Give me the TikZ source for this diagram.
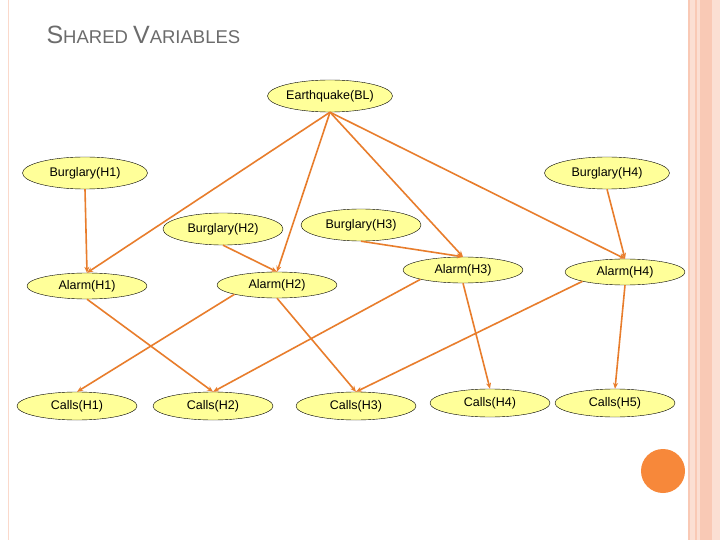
\documentclass[tikz,border=0pt]{standalone}
\usepackage{fontspec}
\setmainfont{Liberation Sans}
\usetikzlibrary{shapes.geometric,arrows.meta}
\definecolor{nodefill}{HTML}{FFFF99}
\definecolor{edge}{HTML}{E87D2C}
\definecolor{stripe}{HTML}{F9C9B5}
\definecolor{dot}{HTML}{F7883A}
\begin{document}
\begin{tikzpicture}[x=1pt,y=-1pt,
  var/.style={ellipse,draw=black,fill=nodefill,minimum width=120,minimum height=32,inner sep=0pt,font=\fontsize{12.5}{14}\selectfont},
  link/.style={draw=edge,line width=1.6pt,-{Stealth[length=6pt,width=5pt]}}]
\useasboundingbox (0,0) rectangle (720,540);
\fill[white] (0,0) rectangle (720,540);
\fill[stripe!60] (688,0) rectangle (720,540);
\draw[stripe,line width=2pt] (689,0) -- (689,540);
\draw[stripe,line width=1.5pt] (696,0) -- (696,540);
\fill[stripe] (700,0) rectangle (712,540);
\draw[stripe!70,line width=1pt] (8,0) -- (8,540);
\node[anchor=west,text=gray!85!black] (title) at (43,35) {\fontsize{25}{27}\selectfont S\fontsize{18.5}{20}\selectfont HARED \fontsize{25}{27}\selectfont V\fontsize{18.5}{20}\selectfont ARIABLES};
\node[var,minimum width=125] (eq) at (330,96) {Earthquake(BL)};
\node[var,minimum width=125] (b1) at (85,173) {Burglary(H1)};
\node[var,minimum width=125] (b4) at (607,173) {Burglary(H4)};
\node[var] (b2) at (223,229) {Burglary(H2)};
\node[var] (b3) at (361,225) {Burglary(H3)};
\node[var,minimum height=26] (a1) at (87,286) {Alarm(H1)};
\node[var,minimum height=26] (a2) at (277,285) {Alarm(H2)};
\node[var,minimum height=26] (a3) at (463,270) {Alarm(H3)};
\node[var,minimum height=26] (a4) at (625,272) {Alarm(H4)};
\node[var,minimum height=28] (c1) at (77,406) {Calls(H1)};
\node[var,minimum height=28] (c2) at (213,406) {Calls(H2)};
\node[var,minimum height=28] (c3) at (356,406) {Calls(H3)};
\node[var,minimum height=28] (c4) at (490,403) {Calls(H4)};
\node[var,minimum height=28] (c5) at (615,403) {Calls(H5)};
\node[circle,fill=dot,minimum size=44,inner sep=0pt] (dotn) at (663,471) {};
\draw[link] (eq.south) -- (a1.north);
\draw[link] (eq.south) -- (a2.north);
\draw[link] (eq.south) -- (a3.north);
\draw[link] (eq.south) -- (a4.north);
\draw[link] (b1.south) -- (a1.north);
\draw[link] (b2.south) -- (a2.north);
\draw[link] (b3.south) -- (a3.north);
\draw[link] (b4.south) -- (a4.north);
\draw[link] (a1.south) -- (c2.north);
\draw[link] (a2.south west) -- (c1.north);
\draw[link] (a2.south) -- (c3.north);
\draw[link] (a3.south) -- (c4.north);
\draw[link] (a3.south west) -- (c2.north);
\draw[link] (a4.south west) -- (c3.north);
\draw[link] (a4.south) -- (c5.north);
\end{tikzpicture}
\end{document}
